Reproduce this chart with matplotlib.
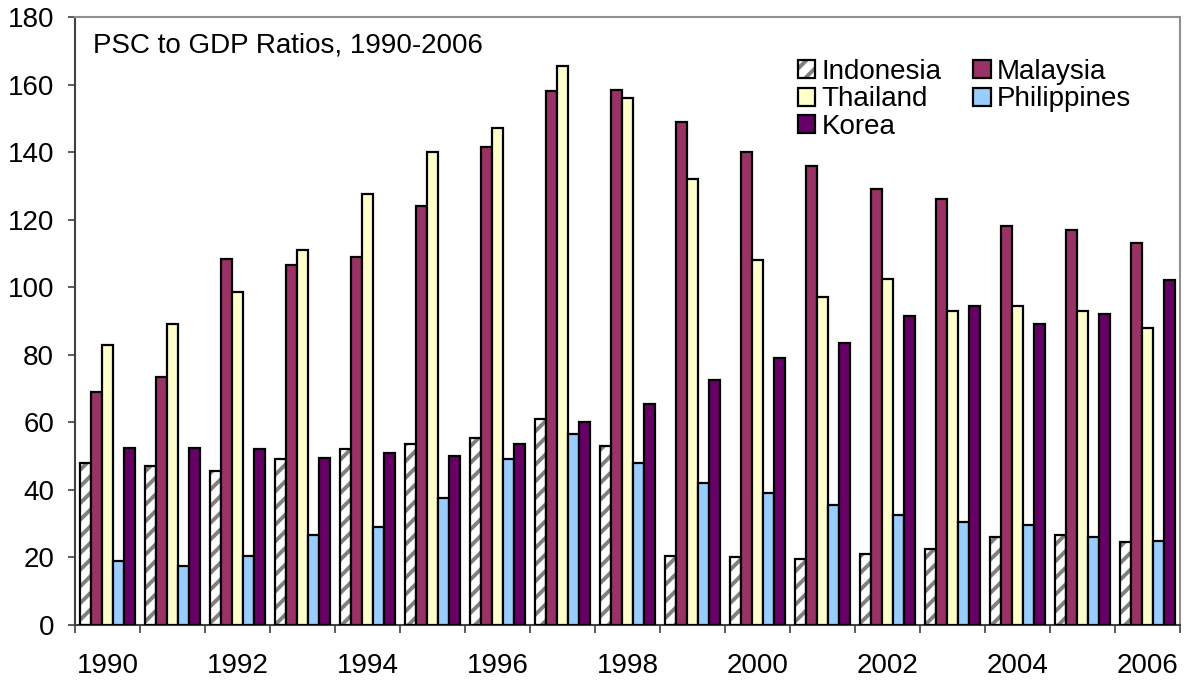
import matplotlib
matplotlib.use("Agg")
import matplotlib.pyplot as plt
from matplotlib.patches import Patch
import numpy as np

plt.rcParams['font.family'] = ['Liberation Sans', 'DejaVu Sans']
plt.rcParams['hatch.linewidth'] = 2.8

years = list(range(1990, 2007))
indonesia = [48, 47, 45.5, 49, 52, 53.5, 55.5, 61, 53, 20.5, 20, 19.5, 21, 22.5, 26, 26.5, 24.5]
malaysia = [69, 73.5, 108.5, 106.5, 109, 124, 141.5, 158, 158.5, 149, 140, 136, 129, 126, 118, 117, 113]
thailand = [83, 89, 98.5, 111, 127.5, 140, 147, 165.5, 156, 132, 108, 97, 102.5, 93, 94.5, 93, 88]
philippines = [19, 17.5, 20.5, 26.5, 29, 37.5, 49, 56.5, 48, 42, 39, 35.5, 32.5, 30.5, 29.5, 26, 25]
korea = [52.5, 52.5, 52, 49.5, 51, 50, 53.5, 60, 65.5, 72.5, 79, 83.5, 91.5, 94.5, 89, 92, 102]

series = [
    ("Indonesia", indonesia, "white"),
    ("Malaysia", malaysia, "#993366"),
    ("Thailand", thailand, "#FFFFCC"),
    ("Philippines", philippines, "#99CCFF"),
    ("Korea", korea, "#660066"),
]

fig = plt.figure(figsize=(11.89, 6.81), dpi=100)
ax = fig.add_axes([75 / 1189, 56 / 681, 1105 / 1189, 608 / 681])

x = np.arange(len(years))
width = 0.169
handles = {}
for i, (name, vals, color) in enumerate(series):
    pos = x - 2 * width + i * width
    if name == "Indonesia":
        # gray diagonal stripes on white, then the black outline on top
        ax.bar(pos, vals, width, color="white", edgecolor="#808080",
               hatch="//", linewidth=0, zorder=2)
        ax.bar(pos, vals, width, color="none", edgecolor="black",
               linewidth=1.6, zorder=3)
    else:
        ax.bar(pos, vals, width, color=color, edgecolor="black",
               linewidth=1.6, zorder=3)
        handles[name] = Patch(facecolor=color, edgecolor="black", linewidth=1.6)

# Legend handle for Indonesia with gray stripes
ind_handle = Patch(facecolor="white", edgecolor="#808080", hatch="//", linewidth=0)
ind_outline = Patch(facecolor="none", edgecolor="black", linewidth=1.6)
handles["Indonesia"] = (ind_handle, ind_outline)

order = ["Indonesia", "Thailand", "Korea", "Malaysia", "Philippines"]
ax.legend([handles[n] for n in order], order, ncol=2, loc="upper left",
          bbox_to_anchor=((798 - 75) / 1105, (625 - 59) / 608),
          frameon=False, fontsize=20, handlelength=0.62, handleheight=0.62,
          handletextpad=0.22, columnspacing=1.15, labelspacing=0.05,
          borderpad=0, borderaxespad=0)

ax.text(18 / 1105, (625 - 53) / 608, "PSC to GDP Ratios, 1990-2006",
        transform=ax.transAxes, fontsize=20, va="baseline", ha="left")

ax.set_xlim(-0.5, len(years) - 0.5)
ax.set_ylim(0, 180)
ax.set_yticks(np.arange(0, 181, 20))
ax.tick_params(axis="y", labelsize=20, length=5, width=1.2, pad=10, color="#404040")

ax.set_xticks(np.arange(-0.5, len(years), 1.0))
ax.set_xticklabels([])
ax.tick_params(axis="x", which="major", length=6, width=1.2, color="#404040")
ax.set_xticks(x[::2], minor=True)
ax.set_xticklabels([str(y) for y in years[::2]], minor=True)
ax.tick_params(axis="x", which="minor", length=0, labelsize=20, pad=20)

for side in ("top", "right"):
    ax.spines[side].set_color("#909090")
    ax.spines[side].set_linewidth(1.5)
for side in ("left", "bottom"):
    ax.spines[side].set_color("#404040")
    ax.spines[side].set_linewidth(1.5)

fig.savefig("out.png", dpi=100)
